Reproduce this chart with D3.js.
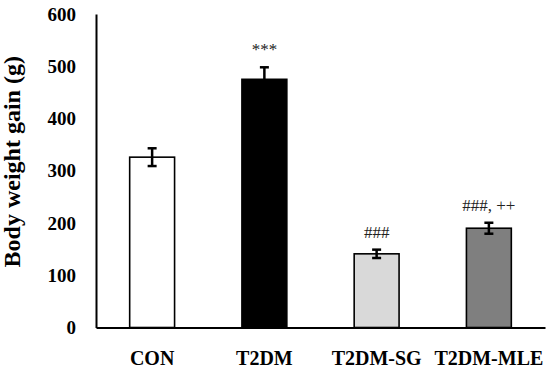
<!DOCTYPE html>
<meta charset='utf-8'>
<style>
  body { margin: 0; background: #fff; }
  svg text { font-family: 'Liberation Serif', 'DejaVu Serif', serif; }
</style>
<div id='chart'></div>
<script src='https://d3js.org/d3.v7.min.js'></script>
<script>
  // data
  var groups = ['CON', 'T2DM', 'T2DM-SG', 'T2DM-MLE'];
  var means = [326, 475, 141, 190];
  var errors = [17, 23, 8, 10.5];
  var marks = ['', '***', '###', '###, ++'];
  var fills = ['#ffffff', '#000000', '#d9d9d9', '#7f7f7f'];
  var yTicks = [0, 100, 200, 300, 400, 500, 600];

  var margin = {top: 14, right: 5, bottom: 43.5, left: 96},
      width = 550 - margin.left - margin.right,
      height = 371 - margin.top - margin.bottom;

  var svg = d3.select('#chart')
    .append('svg')
      .attr('width', 550)
      .attr('height', 371)
    .append('g')
      .attr('transform', 'translate(' + margin.left + ',' + margin.top + ')');

  var x = d3.scaleBand()
    .domain(groups)
    .range([0, width])
    .paddingInner(0.6)
    .paddingOuter(0.3);

  var y = d3.scaleLinear()
    .domain([0, 600])
    .range([height, 0]);

  // y axis
  var yAxis = svg.append('g')
    .call(d3.axisLeft(y).tickValues(yTicks).tickSize(0).tickPadding(20));
  yAxis.select('.domain').attr('stroke', '#000').attr('stroke-width', 2);
  yAxis.selectAll('text')
    .attr('font-size', 19)
    .attr('font-weight', 'bold')
    .attr('fill', '#000')
    .style('font-family', "'Liberation Serif', serif");

  svg.append('text')
    .attr('transform', 'translate(-76,' + (height / 2 - 9) + ') rotate(-90)')
    .attr('text-anchor', 'middle')
    .attr('font-size', 24)
    .attr('font-weight', 'bold')
    .text('Body weight gain (g)');

  // bars
  svg.selectAll('.bar')
    .data(groups)
    .enter()
    .append('rect')
      .attr('class', 'bar')
      .attr('x', function(d) { return x(d); })
      .attr('y', function(d, i) { return y(means[i]); })
      .attr('width', x.bandwidth())
      .attr('height', function(d, i) { return height - y(means[i]); })
      .attr('fill', function(d, i) { return fills[i]; })
      .attr('stroke', '#000')
      .attr('stroke-width', 1.6);

  // error bars
  var err = svg.selectAll('.err')
    .data(groups)
    .enter()
    .append('g')
      .attr('class', 'err')
      .attr('transform', function(d) { return 'translate(' + (x(d) + x.bandwidth() / 2) + ',0)'; });
  err.append('line')
    .attr('y1', function(d, i) { return y(means[i] + errors[i]); })
    .attr('y2', function(d, i) { return y(means[i] - errors[i]); })
    .attr('stroke', '#000')
    .attr('stroke-width', 2.5);
  err.append('line')
    .attr('x1', -4.5).attr('x2', 4.5)
    .attr('y1', function(d, i) { return y(means[i] + errors[i]); })
    .attr('y2', function(d, i) { return y(means[i] + errors[i]); })
    .attr('stroke', '#000')
    .attr('stroke-width', 2.5);
  err.append('line')
    .attr('x1', -4.5).attr('x2', 4.5)
    .attr('y1', function(d, i) { return y(means[i] - errors[i]); })
    .attr('y2', function(d, i) { return y(means[i] - errors[i]); })
    .attr('stroke', function(d, i) { return i == 1 ? 'none' : '#000'; })
    .attr('stroke-width', 2.5);

  // significance labels
  svg.selectAll('.mark')
    .data(groups)
    .enter()
    .append('text')
      .attr('class', 'mark')
      .attr('x', function(d) { return x(d) + x.bandwidth() / 2; })
      .attr('y', function(d, i) { return y(means[i] + errors[i]) - 12; })
      .attr('text-anchor', 'middle')
      .attr('font-size', 17)
      .attr('fill', '#222')
      .text(function(d, i) { return marks[i]; });

  // x axis
  var xAxis = svg.append('g')
    .attr('transform', 'translate(0,' + height + ')')
    .call(d3.axisBottom(x).tickSize(0).tickPadding(23));
  xAxis.select('.domain').attr('stroke', '#000').attr('stroke-width', 2);
  xAxis.selectAll('text')
    .attr('font-size', 20)
    .attr('font-weight', 'bold')
    .attr('fill', '#000')
    .style('font-family', "'Liberation Serif', serif");
</script>
